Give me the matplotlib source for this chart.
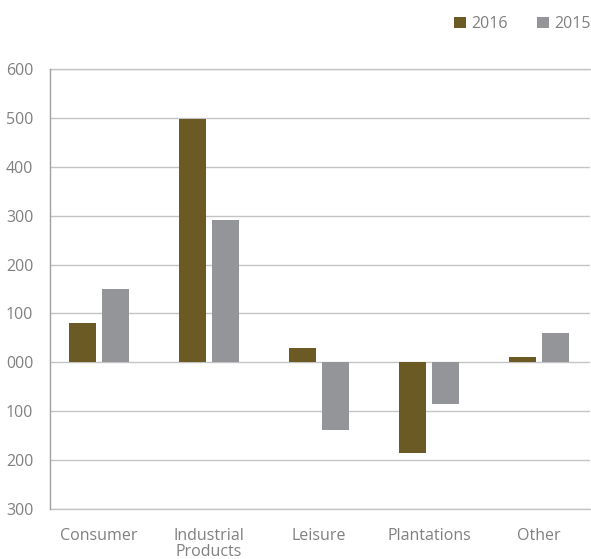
import matplotlib
import matplotlib.pyplot as plt
import numpy as np

matplotlib.use("Agg")

categories = ["Consumer", "Industrial\nProducts", "Leisure", "Plantations", "Other"]
values_2016 = [80, 497, 29, -186, 10]
values_2015 = [151, 292, -139, -86, 61]
ytick_values = [600, 500, 400, 300, 200, 100, 0, -100, -200, -300]
ytick_labels = ["600", "500", "400", "300", "200", "100", "000", "100", "200", "300"]

COLOR_2016 = "#6b5a23"
COLOR_2015 = "#939598"
TEXT = "#808080"
GRID = "#c4c4c4"

plt.rcParams["font.family"] = ["Open Sans", "DejaVu Sans"]

fig = plt.figure(figsize=(5.91, 5.59), dpi=100)
ax = fig.add_axes([50 / 591, 1 - 509 / 559, 540 / 591, 440 / 559])

x = np.arange(len(categories))
w = 0.245
off = 0.15
ax.bar(x - off, values_2016, w, color=COLOR_2016, label="2016", zorder=3)
ax.bar(x + off, values_2015, w, color=COLOR_2015, label="2015", zorder=3)

ax.set_xlim(-0.445, 4.464)
ax.set_ylim(-300, 600)
ax.set_yticks(ytick_values)
ax.set_yticklabels(ytick_labels)
ax.set_xticks(x)
ax.set_xticklabels(categories, linespacing=0.95)

ax.grid(axis="y", color=GRID, linewidth=1, zorder=0)
ax.axhline(-300, color=GRID, linewidth=1, zorder=0, clip_on=False)
ax.axhline(600, color=GRID, linewidth=1, zorder=0, clip_on=False)
for s in ["top", "right", "bottom"]:
    ax.spines[s].set_visible(False)
ax.spines["left"].set_color("#a0a0a0")
ax.spines["left"].set_linewidth(1)

ax.tick_params(axis="y", length=0, pad=12, labelsize=11.5, labelcolor=TEXT)
ax.tick_params(axis="x", length=0, pad=14, labelsize=11.5, labelcolor=TEXT)

leg = fig.legend(
    loc="upper right",
    bbox_to_anchor=(1.0, 1.0 - 16 / 559),
    borderaxespad=0,
    borderpad=0,
    ncol=2,
    frameon=False,
    fontsize=11.5,
    handlelength=0.75,
    handleheight=0.75,
    handletextpad=0.35,
    columnspacing=1.8,
    labelcolor=TEXT,
)

fig.savefig("out.png", dpi=100)
